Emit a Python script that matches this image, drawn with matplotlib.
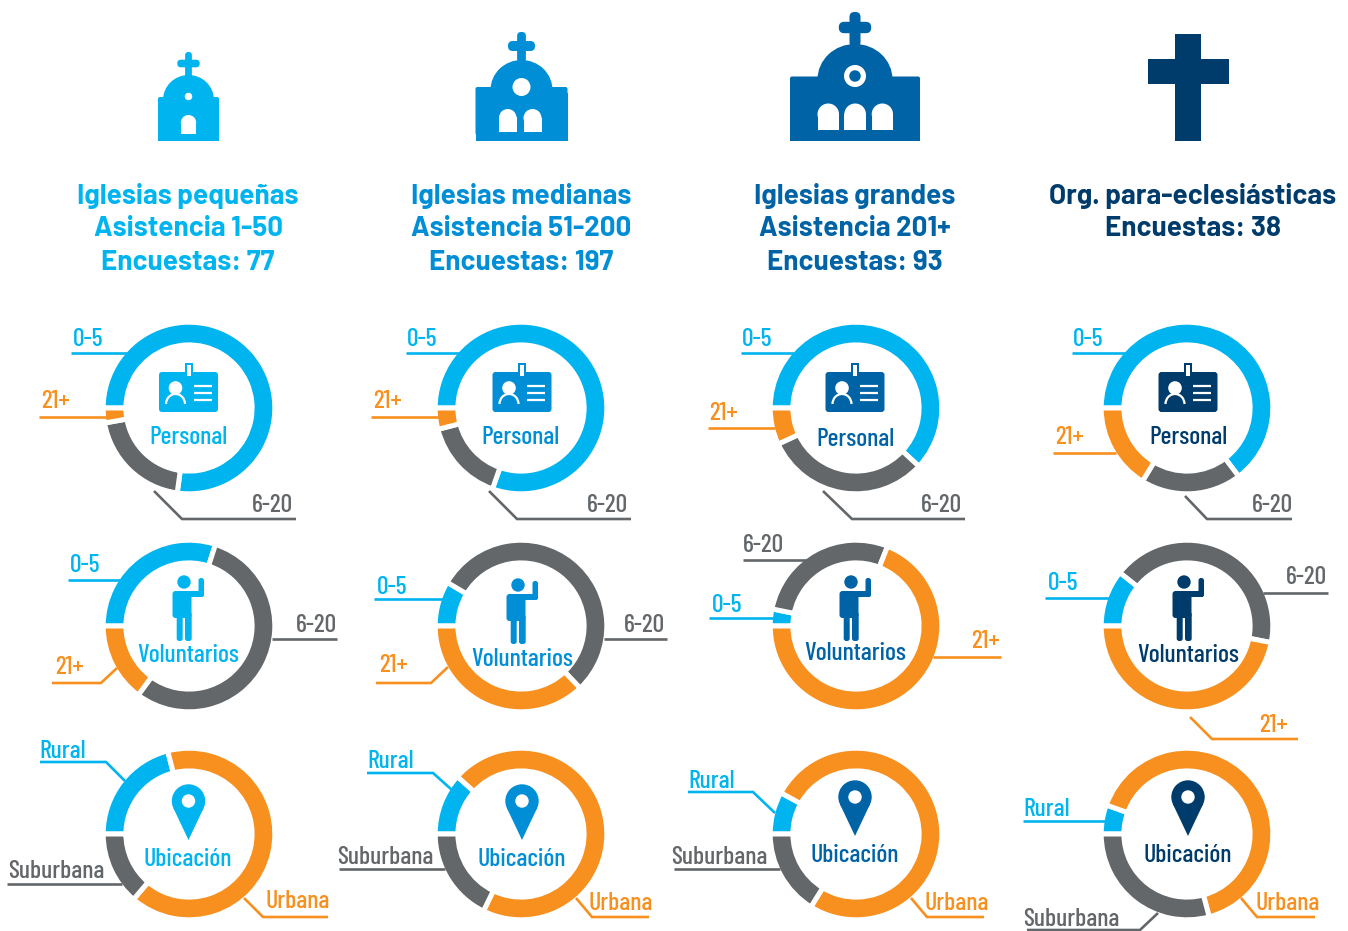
import matplotlib
matplotlib.use('Agg')
import matplotlib.pyplot as plt
from matplotlib.patches import Circle, Ellipse, Arc, Rectangle, FancyBboxPatch, Polygon

# groups
col_titles = [
    ['Iglesias pequeñas', 'Asistencia 1-50', 'Encuestas: 77'],
    ['Iglesias medianas', 'Asistencia 51-200', 'Encuestas: 197'],
    ['Iglesias grandes', 'Asistencia 201+', 'Encuestas: 93'],
    ['Org. para-eclesiásticas', 'Encuestas: 38'],
]

# percent of answers
personal_0_5 = [77.2, 80.4, 61.9, 64.7]
personal_6_20 = [20.0, 15.6, 31.2, 19.0]
personal_21 = [2.8, 4.0, 6.9, 16.3]

volunt_0_5 = [30.0, 8.5, 3.2, 10.7]
volunt_6_20 = [55.1, 54.4, 27.8, 42.4]
volunt_21 = [14.9, 37.1, 69.0, 46.9]

rural = [21.0, 11.7, 8.0, 5.5]
urbana = [65.2, 70.6, 75.9, 65.4]
suburbana = [13.8, 17.8, 16.2, 29.2]

ring_names = ['Personal', 'Voluntarios', 'Ubicación']

# layout, in pixels of the picture
W, H = 1348, 931
ring_x = [189, 521, 856, 1187]
ring_y = [408, 626, 834]
icon_x = [188.5, 522, 855, 1188]
name_x = [[188, 520, 855, 1188], [188, 522, 855, 1188], [188, 522, 855, 1188]]
name_y = [[438, 438, 439, 438], [656, 659, 654, 656], [859, 859, 856, 856]]
title_y = [196, 229, 263]
title_x = [188, 521.5, 855, 1193]

SKY = '#00B4F0'
MID = '#008FD6'
DARK = '#0063A6'
NAVY = '#003C6B'
ORANGE = '#F7901E'
GRAY = '#63676A'
col_colors = [SKY, MID, DARK, NAVY]

COND = ['Barlow Condensed', 'Roboto Condensed', 'Liberation Sans Narrow', 'DejaVu Sans']
BOLD = ['Barlow', 'Roboto', 'DejaVu Sans']

# (label, colour, text x, text y, leader points)
leaders = [
    # personal
    ('0-5', SKY, 88, 339, [(71, 353), (127, 353)]),
    ('21+', ORANGE, 55, 401, [(39, 417), (110, 417)]),
    ('6-20', GRAY, 272, 505, [(154, 491), (182, 519), (296, 519)]),
    ('0-5', SKY, 422, 339, [(406, 353), (460, 353)]),
    ('21+', ORANGE, 388, 401, [(371, 417), (442, 417)]),
    ('6-20', GRAY, 607, 505, [(489, 491), (517, 519), (631, 519)]),
    ('0-5', SKY, 757, 339, [(741, 353), (794, 353)]),
    ('21+', ORANGE, 724, 413, [(708, 428), (775, 428)]),
    ('6-20', GRAY, 941, 505, [(823, 491), (852, 519), (965, 519)]),
    ('0-5', SKY, 1088, 339, [(1072, 353), (1125, 353)]),
    ('21+', ORANGE, 1070, 438, [(1053, 453), (1116, 453)]),
    ('6-20', GRAY, 1272, 505, [(1185, 496), (1207, 519), (1292, 519)]),
    # voluntarios
    ('0-5', SKY, 85, 566, [(68, 580), (120, 580)]),
    ('6-20', GRAY, 316, 625, [(272, 639), (337, 639)]),
    ('21+', ORANGE, 69, 667, [(52, 683), (101, 683), (117, 668)]),
    ('0-5', SKY, 392, 587, [(374, 599), (443, 599)]),
    ('21+', ORANGE, 393, 666, [(376, 683), (431, 683), (448, 667)]),
    ('6-20', GRAY, 644, 625, [(604, 639), (667, 639)]),
    ('6-20', GRAY, 763, 545, [(743, 560), (807, 560)]),
    ('0-5', SKY, 727, 605, [(709, 618), (773, 618)]),
    ('21+', ORANGE, 985, 641, [(933, 657), (1001, 657)]),
    ('0-5', SKY, 1063, 584, [(1045, 598), (1109, 598)]),
    ('6-20', GRAY, 1306, 578, [(1263, 593), (1328, 593)]),
    ('21+', ORANGE, 1273, 726, [(1190, 717), (1212, 739), (1298, 739)]),
    # ubicacion
    ('Rural', SKY, 63, 751, [(40, 762), (106, 762), (125, 781)]),
    ('Suburbana', GRAY, 56, 871, [(7, 884), (122, 884)]),
    ('Urbana', ORANGE, 298, 902, [(244, 898), (263, 917), (328, 917)]),
    ('Rural', SKY, 391, 761, [(367, 773), (433, 773), (452, 790)]),
    ('Suburbana', GRAY, 385, 857, [(339, 869), (445, 869)]),
    ('Urbana', ORANGE, 621, 903, [(576, 898), (592, 917), (649, 917)]),
    ('Rural', SKY, 712, 781, [(688, 792), (753, 792), (775, 813)]),
    ('Suburbana', GRAY, 719, 857, [(674, 869), (780, 869)]),
    ('Urbana', ORANGE, 957, 903, [(911, 898), (927, 917), (984, 917)]),
    ('Rural', SKY, 1047, 809, [(1023, 821), (1105, 821)]),
    ('Suburbana', GRAY, 1071, 919, [(1027, 930), (1140, 930), (1158, 913)]),
    ('Urbana', ORANGE, 1288, 903, [(1241, 898), (1257, 917), (1315, 917)]),
]

fig = plt.figure(figsize=(W / 100, H / 100), dpi=100, facecolor='white')
ax = fig.add_axes([0, 0, 1, 1])


def box(x0, y0, x1, y1, color, rounding=0.0, zorder=5):
    if rounding:
        p = FancyBboxPatch((x0, y0), x1 - x0, y1 - y0, boxstyle='round,pad=0,rounding_size=%g' % rounding,
                           fc=color, ec='none', zorder=zorder)
    else:
        p = Rectangle((x0, y0), x1 - x0, y1 - y0, fc=color, ec='none', zorder=zorder)
    ax.add_patch(p)


def door(x0, x1, top, bottom, color='white'):
    r = (x1 - x0) / 2
    ax.add_patch(Ellipse(((x0 + x1) / 2, top + r), x1 - x0, 2 * r, fc=color, ec='none', zorder=7))
    box(x0, top + r - 0.5, x1, bottom, color, zorder=7)


def church(cx, body, shoulder, dome, dome_top, cross, bottom, color):
    box(cx - body, shoulder, cx + body, bottom - 6, color, rounding=2)
    box(cx - body, shoulder + 6, cx + body, bottom, color)
    ax.add_patch(Ellipse((cx, shoulder + 3), 2 * dome, 2 * (shoulder + 3 - dome_top), fc=color, ec='none', zorder=5))
    top, arm_y, arm, bar, stem = cross
    box(cx - stem, top, cx + stem, dome_top + 3, color, rounding=stem * 0.9)
    box(cx - arm, arm_y - bar, cx + arm, arm_y + bar, color, rounding=bar * 0.95)


def churches():
    # small
    cx = icon_x[0]
    church(cx, 30.5, 97, 25.5, 75, (52, 63.5, 11.2, 3.8, 3.4), 141, col_colors[0])
    ax.add_patch(Ellipse((cx, 96.5), 7.5, 7.5, fc='white', ec='none', zorder=7))
    door(cx - 7.7, cx + 7.7, 115, 133.5)
    # medium
    cx = 521.5
    church(cx, 46, 87, 31, 60, (32, 46, 13.5, 5, 4.4), 141, col_colors[1])
    ax.add_patch(Ellipse((cx, 87), 18, 18, fc='white', ec='none', zorder=7))
    door(cx - 22.5, cx - 5, 109, 132)
    door(cx + 2, cx + 20, 109, 132)
    # large
    cx = 855
    church(cx, 65, 76.5, 37.5, 44, (12, 27.5, 16.2, 5.7, 5.5), 141, col_colors[2])
    ax.add_patch(Ellipse((cx, 76), 22, 22, fc='white', ec='none', zorder=7))
    ax.add_patch(Ellipse((cx, 76), 11.5, 11.5, fc=col_colors[2], ec='none', zorder=8))
    door(cx - 37.5, cx - 16, 103.5, 130)
    door(cx - 10.7, cx + 11, 103.5, 130)
    door(cx + 16.7, cx + 38, 103.5, 130)
    # cross
    box(1175.4, 34.4, 1201.4, 141, col_colors[3])
    box(1148, 58.5, 1229, 84, col_colors[3])


def badge(cx, color):
    box(cx - 29.5, 372, cx + 29.5, 412, color, rounding=3)
    box(cx - 4, 363, cx + 4, 377, color, zorder=6)
    box(cx - 2, 365, cx + 2, 376, 'white', zorder=7)
    ax.add_patch(Circle((cx - 13, 388), 6.8, fc='white', ec='none', zorder=7))
    ax.add_patch(Arc((cx - 13, 404), 19, 20, theta1=180, theta2=360, ec='white', lw=1.6, zorder=7))
    for ly in [386, 393, 400]:
        ax.plot([cx + 5, cx + 23], [ly, ly], color='white', lw=1.6, zorder=7, solid_capstyle='butt')


def person(hx, hy, color):
    ax.add_patch(Circle((hx, hy), 6.7, fc=color, ec='none', zorder=5))
    box(hx - 11.5, hy + 9, hx + 7.5, hy + 36, color, rounding=3)
    box(hx + 3, hy + 9, hx + 20, hy + 15, color, rounding=2.5)
    box(hx + 14.5, hy - 4, hx + 20, hy + 15, color, rounding=2.5)
    box(hx - 7.3, hy + 30, hx - 1.3, hy + 59, color, rounding=2.5)
    box(hx + 1, hy + 30, hx + 7.7, hy + 59, color, rounding=2.5)


def pin(cx, cy, color):
    ax.add_patch(Circle((cx, cy), 16.7, fc=color, ec='none', zorder=5))
    ax.add_patch(Polygon([(cx - 15.1, cy + 7.1), (cx + 15.1, cy + 7.1), (cx, cy + 39)], fc=color, ec='none', zorder=5))
    ax.add_patch(Circle((cx, cy), 6.7, fc='white', ec='none', zorder=6))


# rings, all start at nine o'clock and run clockwise (the y axis is flipped)
rows = [
    ([personal_0_5, personal_6_20, personal_21], [SKY, GRAY, ORANGE]),
    ([volunt_0_5, volunt_6_20, volunt_21], [SKY, GRAY, ORANGE]),
    ([rural, urbana, suburbana], [SKY, ORANGE, GRAY]),
]
for r, (series, colors) in enumerate(rows):
    for c in range(4):
        vals = [s[c] for s in series]
        ax.pie(vals, colors=colors, center=(ring_x[c], ring_y[r]), radius=85.8, startangle=180, counterclock=True,
               wedgeprops=dict(width=22.7, edgecolor='white', linewidth=3.6))
        ax.text(name_x[r][c], name_y[r][c], ring_names[r], color=col_colors[c], family=COND, fontweight=500,
                fontsize=18.5, ha='center', va='center', zorder=10)

ax.set_aspect('auto')
ax.set_xlim(0, W)
ax.set_ylim(H, 0)
ax.axis('off')

churches()
for c in range(4):
    color = col_colors[c]
    badge(icon_x[c], color)
    person([184, 518, 851, 1184][c], [582, 585, 582, 582][c], color)
    pin(icon_x[c], [801, 801, 797, 797][c], color)
    for i, line in enumerate(col_titles[c]):
        ax.text(title_x[c], title_y[i], line, color=color, family=BOLD, fontweight='bold', fontsize=20,
                ha='center', va='center')

for label, color, tx, ty, pts in leaders:
    ax.plot([p[0] for p in pts], [p[1] for p in pts], color=color, lw=1.9, zorder=4, solid_capstyle='butt',
            solid_joinstyle='miter')
    ax.text(tx, ty, label, color=color, family=COND, fontweight=500, fontsize=18.5, ha='center', va='center',
            zorder=10)

fig.savefig('out.png', dpi=100)
